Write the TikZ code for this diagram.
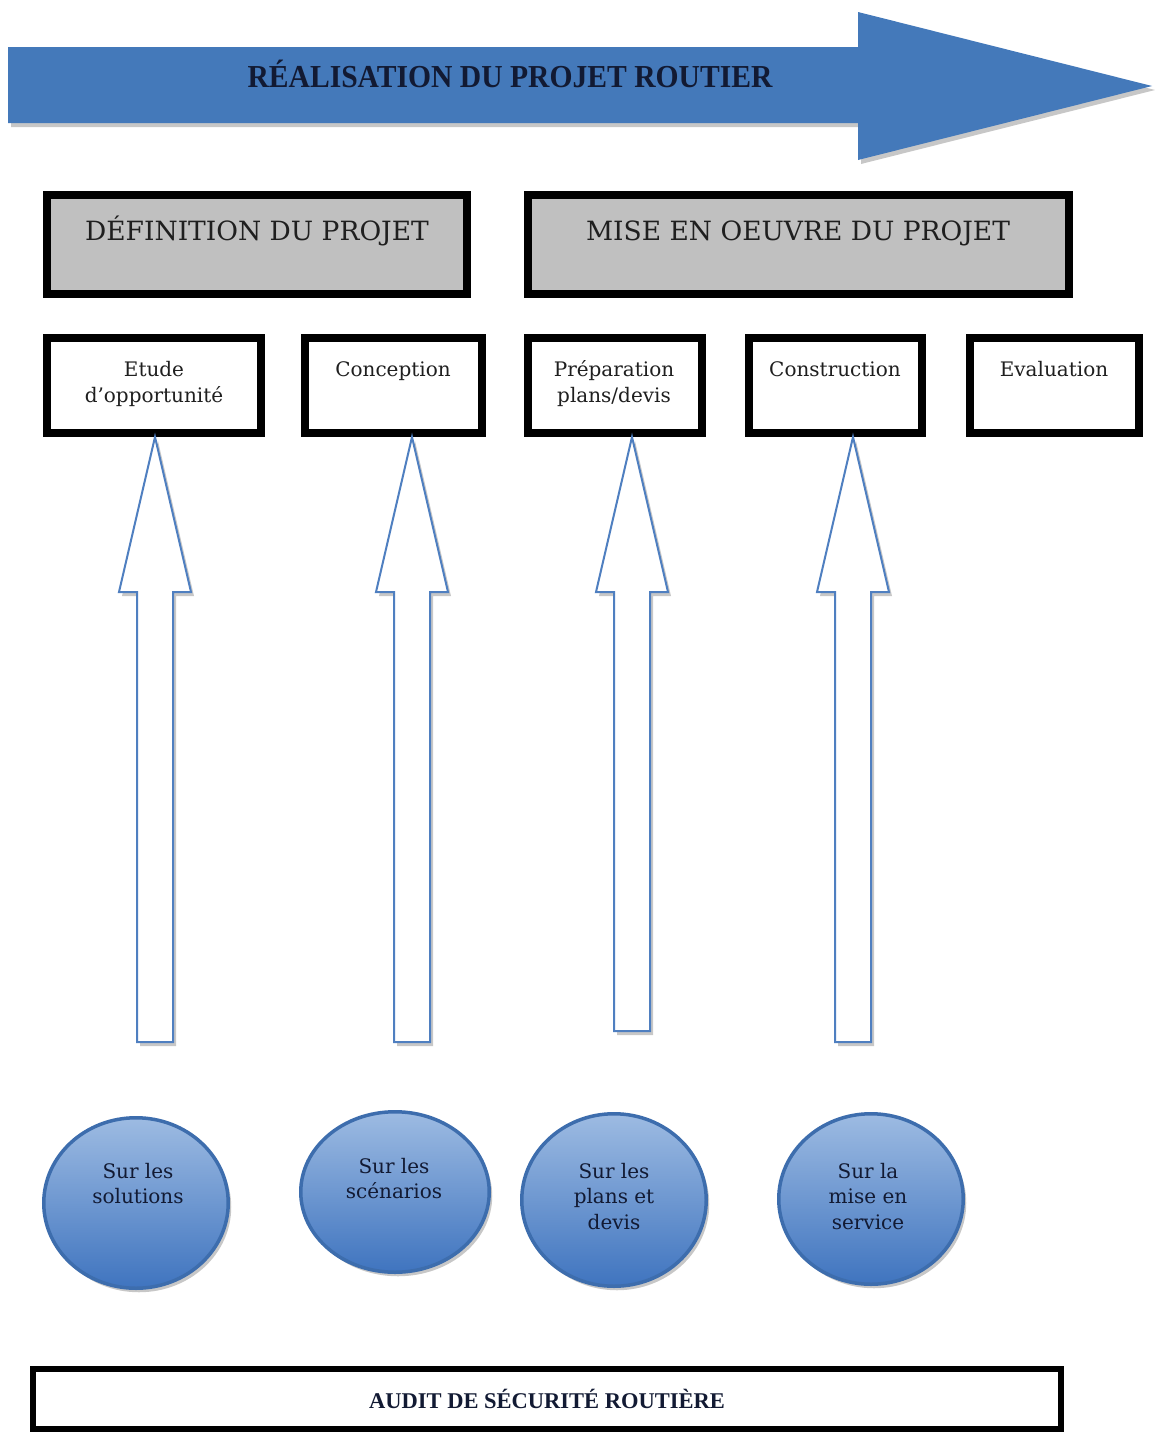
\documentclass[tikz,border=0pt]{standalone}
\usepackage{fontspec}
\setmainfont{DejaVu Serif}
\newfontfamily\bannerfont[FakeStretch=0.925]{Liberation Serif}
\newfontfamily\auditfont{Liberation Serif}
\usetikzlibrary{shapes.geometric,shadows}

\definecolor{bandblue}{HTML}{4479BA}
\definecolor{boxgray}{HTML}{C0C0C0}
\definecolor{navytext}{HTML}{121A33}
\definecolor{riseredge}{HTML}{4F7FC0}
\definecolor{ringblue}{HTML}{3D6DAD}
\definecolor{ballhi}{HTML}{9DBBE2}
\definecolor{balllo}{HTML}{3F74BF}

% hollow block arrow pointing up: centre x, tip y, foot y
\newcommand\riserarrow[3]{%
  \draw[riser] (#1,#2) -- (#1+36,592) -- (#1+18,592) -- (#1+18,#3)
    -- (#1-18,#3) -- (#1-18,592) -- (#1-36,592) -- cycle;}

\begin{document}
\begin{tikzpicture}[x=1pt,y=-1pt,
  softshadow/.style={drop shadow={shadow xshift=3pt,shadow yshift=-4pt,opacity=0.22,fill=black}},
  headbox/.style={draw=black,line width=8pt,fill=boxgray,softshadow},
  stagebox/.style={draw=black,line width=8pt,fill=white,softshadow},
  auditbox/.style={draw=black,line width=6pt,fill=white,softshadow},
  headtext/.style={font=\fontsize{26.5}{30}\selectfont,text=black!88,anchor=base,inner sep=0pt},
  stagetext/.style={font=\fontsize{20}{26}\selectfont,text=black!88,align=center,anchor=base,inner sep=0pt},
  auditball/.style={ellipse,draw=ringblue,line width=3.5pt,top color=ballhi,bottom color=balllo,softshadow},
  balltext/.style={font=\fontsize{20}{25.5}\selectfont,text=navytext,align=center,anchor=base,inner sep=0pt},
  riser/.style={draw=riseredge,line width=2pt,fill=white,softshadow},
]
\useasboundingbox (0,0) rectangle (1155,1432);

% banner arrow
\path[fill=bandblue,softshadow] (8,47) -- (858,47) -- (858,12) -- (1152,86)
  -- (858,160) -- (858,123) -- (8,123) -- cycle;
\node[font=\bannerfont\bfseries\fontsize{32}{36}\selectfont,text=navytext,anchor=base,inner sep=0pt]
  (banner) at (510,87) {RÉALISATION DU PROJET ROUTIER};

% phase headers
\node[headbox,minimum width=420,minimum height=99] (def) at (257,244.5) {};
\node[headtext] (deft) at (257,240) {DÉFINITION DU PROJET};
\node[headbox,minimum width=541,minimum height=99] (mise) at (798.5,244.5) {};
\node[headtext] (miset) at (798,240) {MISE EN OEUVRE DU PROJET};

% stages (multi-line labels are anchored on their last baseline)
\node[stagebox,minimum width=214,minimum height=95] (etude) at (154,385.5) {};
\node[stagetext] (etudet) at (154,402) {Etude\\d’opportunité};
\node[stagebox,minimum width=177,minimum height=95] (conc) at (393.5,385.5) {};
\node[stagetext] (conct) at (393,376) {Conception};
\node[stagebox,minimum width=174,minimum height=95] (prep) at (615,385.5) {};
\node[stagetext] (prept) at (614,402) {Préparation\\plans/devis};
\node[stagebox,minimum width=173,minimum height=95] (constr) at (835.5,385.5) {};
\node[stagetext] (constrt) at (835,376) {Construction};
\node[stagebox,minimum width=169,minimum height=95] (eval) at (1054.5,385.5) {};
\node[stagetext] (evalt) at (1054,376) {Evaluation};

% block arrows rising to the stages
\riserarrow{155}{437}{1042}
\riserarrow{412}{437}{1042}
\riserarrow{632}{437}{1031}
\riserarrow{853}{437}{1042}

% audit stages
\node[auditball,minimum width=184.5,minimum height=170.5] (a1) at (136,1203) {};
\node[balltext] (a1t) at (138,1203.5) {Sur les\\solutions};
\node[auditball,minimum width=188.5,minimum height=160.5] (a2) at (395,1192) {};
\node[balltext] (a2t) at (394,1198.5) {Sur les\\scénarios};
\node[auditball,minimum width=184.5,minimum height=172.5] (a3) at (614,1200) {};
\node[balltext] (a3t) at (614,1229) {Sur les\\plans et\\devis};
\node[auditball,minimum width=184.5,minimum height=170.5] (a4) at (871,1199) {};
\node[balltext] (a4t) at (868,1229) {Sur la\\mise en\\service};

% road safety audit band
\node[auditbox,minimum width=1028,minimum height=60] (audit) at (547,1399) {};
\node[font=\auditfont\bfseries\fontsize{22.5}{26}\selectfont,text=navytext,anchor=base,inner sep=0pt]
  (auditt) at (547,1408) {AUDIT DE SÉCURITÉ ROUTIÈRE};
\end{tikzpicture}
\end{document}
